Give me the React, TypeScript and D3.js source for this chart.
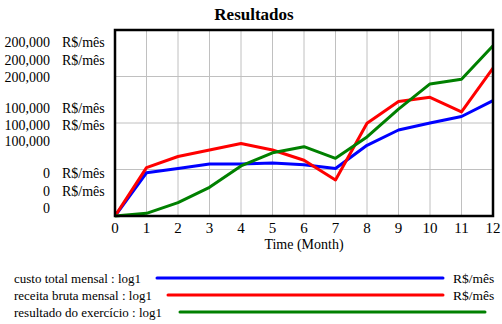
import React from "react";
import * as d3 from "d3";

const months = [0, 1, 2, 3, 4, 5, 6, 7, 8, 9, 10, 11, 12];
const custoTotal = [0, 46500, 51000, 56000, 56000, 57000, 55000, 51000, 76000, 92500, 100000, 107000, 124000];
const receitaBruta = [0, 52000, 64000, 71000, 78000, 71000, 60000, 38700, 99700, 123000, 127600, 112000, 159000];
const resultado = [0, 2900, 14300, 30800, 53800, 68000, 74500, 62000, 85000, 115000, 142000, 147000, 183000];

const seriesNames = ["custo total mensal : log1", "receita bruta mensal : log1", "resultado do exercício : log1"];
const seriesUnits = ["R$/mês", "R$/mês", ""];
const seriesColors = ["#0000ff", "#ff0000", "#008000"];
const yTickLabels = ["200,000", "100,000", "0"];
const yTickValues = [200000, 100000, 0];

export default function App() {
  const W = 502, H = 324;
  const left = 115, right = 493, top = 30, bottom = 216;
  const x = d3.scaleLinear().domain([0, 12]).range([left, right]);
  const y = d3.scaleLinear().domain([0, 200000]).range([bottom, top]);
  const line = d3.line<number>().x((_, i) => x(months[i])).y(d => y(d));
  const data = [custoTotal, receitaBruta, resultado];
  const font = "Liberation Serif, serif";
  const gridY = [0, 50000, 100000, 150000, 200000];
  const stackBaselines: Record<number, number[]> = {
    200000: [47, 64.5, 82],
    100000: [113, 130, 146],
    0: [178, 196, 213],
  };
  const legendY = [278, 295, 312];
  const legendLineStart = [157, 168, 180];
  const legendLineEnd = [443, 443, 485];

  return (
    <svg width={W} height={H} style={{ position: "absolute", left: 0, top: 0, background: "#fff", fontFamily: font }}>
      <rect x={0} y={0} width={W} height={H} fill="#fff" />
      <text x={254} y={20} textAnchor="middle" fontSize={17} fontWeight="bold" style={{ fontFamily: font }}>Resultados</text>
      {months.map(m => (
        <line key={"vx" + m} x1={x(m)} x2={x(m)} y1={top} y2={bottom} stroke="#c0c0c0" strokeWidth={1} />
      ))}
      {gridY.map(v => (
        <line key={"gy" + v} x1={left} x2={right} y1={y(v)} y2={y(v)} stroke="#c0c0c0" strokeWidth={1} />
      ))}
      {data.map((d, i) => (
        <path key={i} d={line(d) || ""} fill="none" stroke={seriesColors[i]} strokeWidth={3} strokeLinejoin="round" />
      ))}
      <rect x={left} y={top} width={right - left} height={bottom - top} fill="none" stroke="#000" strokeWidth={2.5} />
      {months.map(m => (
        <text key={"xt" + m} x={x(m)} y={233} textAnchor="middle" fontSize={15} style={{ fontFamily: font }}>{m}</text>
      ))}
      <text x={(left + right) / 2} y={249} textAnchor="middle" fontSize={14} style={{ fontFamily: font }}>Time (Month)</text>
      {yTickValues.map((v, vi) =>
        stackBaselines[v].map((b, k) => (
          <g key={"yl" + vi + "-" + k}>
            <text x={50} y={b} textAnchor="end" fontSize={14} style={{ fontFamily: font }}>{yTickLabels[vi]}</text>
            {seriesUnits[k] && <text x={62} y={b} fontSize={14} style={{ fontFamily: font }}>{seriesUnits[k]}</text>}
          </g>
        ))
      )}
      {seriesNames.map((n, i) => (
        <g key={"lg" + i}>
          <text x={14} y={legendY[i] + 5} fontSize={13} style={{ fontFamily: font }}>{n}</text>
          <line x1={legendLineStart[i]} x2={legendLineEnd[i]} y1={legendY[i]} y2={legendY[i]} stroke={seriesColors[i]} strokeWidth={3} strokeLinecap="round" />
          {seriesUnits[i] && <text x={453} y={legendY[i] + 5} fontSize={13.5} style={{ fontFamily: font }}>{seriesUnits[i]}</text>}
        </g>
      ))}
    </svg>
  );
}
